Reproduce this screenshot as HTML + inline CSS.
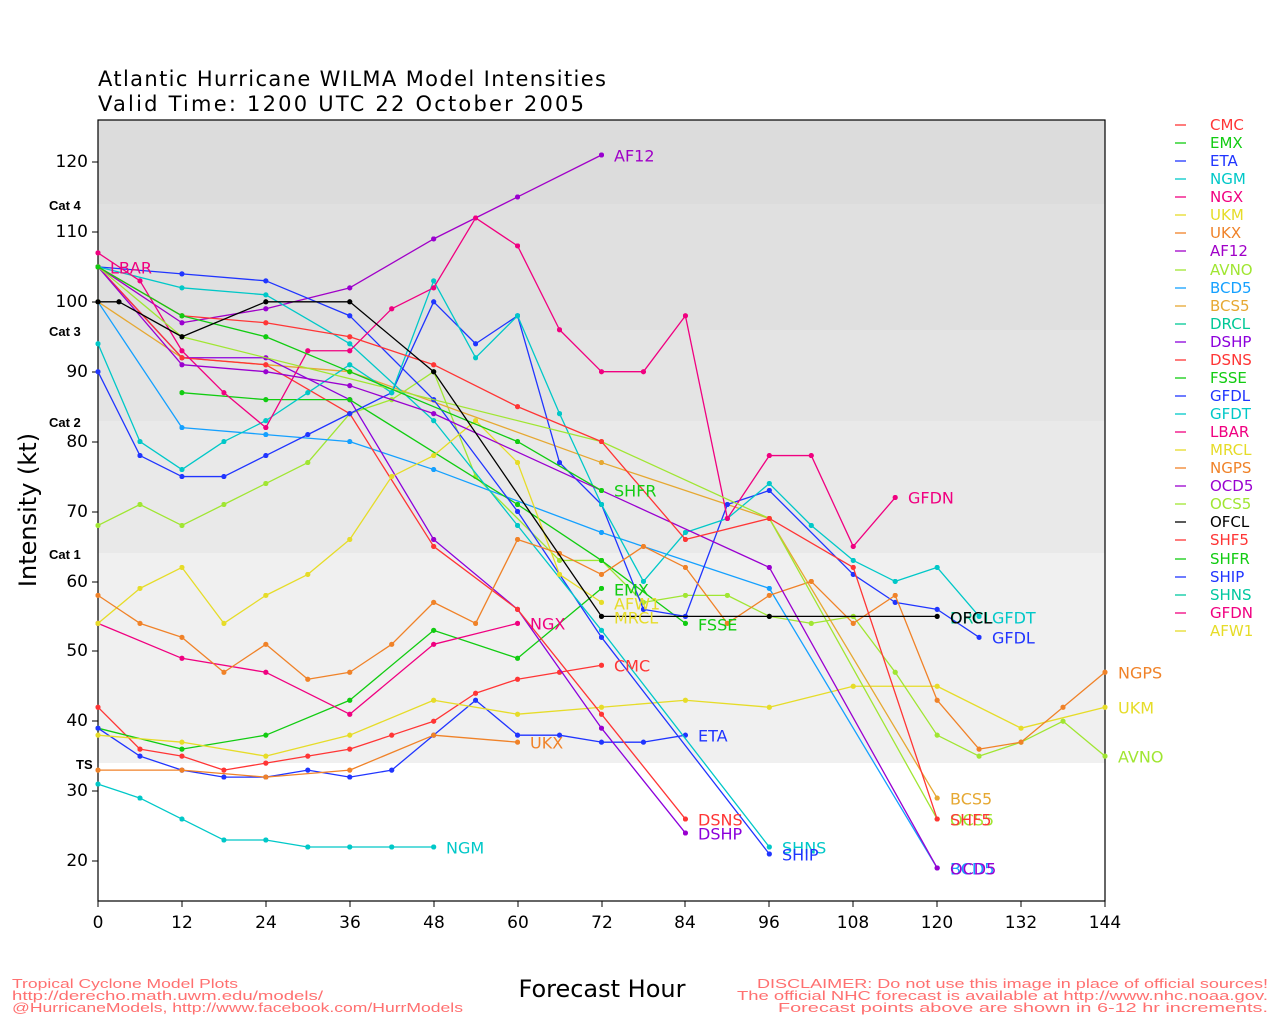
<!DOCTYPE html>
<html><head><meta charset="utf-8"><style>
body{margin:0;background:#fff}
svg{display:block;font-family:"DejaVu Sans","Liberation Sans",sans-serif}
.l{fill:none;stroke-width:1.3;vector-effect:non-scaling-stroke;stroke-linejoin:round}
</style></head><body>
<svg width="1280" height="1024" viewBox="0 0 1280 1024" xmlns="http://www.w3.org/2000/svg">
<defs>
<marker id="mr" markerUnits="userSpaceOnUse" markerWidth="0.75" markerHeight="0.75" viewBox="-1 -1 2 2"><circle r="1" fill="#ff3535"/></marker>
<marker id="mg" markerUnits="userSpaceOnUse" markerWidth="0.75" markerHeight="0.75" viewBox="-1 -1 2 2"><circle r="1" fill="#11cc11"/></marker>
<marker id="mb" markerUnits="userSpaceOnUse" markerWidth="0.75" markerHeight="0.75" viewBox="-1 -1 2 2"><circle r="1" fill="#2035ff"/></marker>
<marker id="mc" markerUnits="userSpaceOnUse" markerWidth="0.75" markerHeight="0.75" viewBox="-1 -1 2 2"><circle r="1" fill="#00c8c8"/></marker>
<marker id="mp" markerUnits="userSpaceOnUse" markerWidth="0.75" markerHeight="0.75" viewBox="-1 -1 2 2"><circle r="1" fill="#f00080"/></marker>
<marker id="my" markerUnits="userSpaceOnUse" markerWidth="0.75" markerHeight="0.75" viewBox="-1 -1 2 2"><circle r="1" fill="#e6dc28"/></marker>
<marker id="mo" markerUnits="userSpaceOnUse" markerWidth="0.75" markerHeight="0.75" viewBox="-1 -1 2 2"><circle r="1" fill="#f08228"/></marker>
<marker id="mv" markerUnits="userSpaceOnUse" markerWidth="0.75" markerHeight="0.75" viewBox="-1 -1 2 2"><circle r="1" fill="#9a00d0"/></marker>
<marker id="mq" markerUnits="userSpaceOnUse" markerWidth="0.75" markerHeight="0.75" viewBox="-1 -1 2 2"><circle r="1" fill="#a0e632"/></marker>
<marker id="ml" markerUnits="userSpaceOnUse" markerWidth="0.75" markerHeight="0.75" viewBox="-1 -1 2 2"><circle r="1" fill="#14a0ff"/></marker>
<marker id="ma" markerUnits="userSpaceOnUse" markerWidth="0.75" markerHeight="0.75" viewBox="-1 -1 2 2"><circle r="1" fill="#e6a832"/></marker>
<marker id="mk" markerUnits="userSpaceOnUse" markerWidth="0.75" markerHeight="0.75" viewBox="-1 -1 2 2"><circle r="1" fill="#000"/></marker>
</defs>
<text x="98" y="86" font-size="21" textLength="508">Atlantic Hurricane WILMA Model Intensities</text>
<text x="98" y="111" font-size="21" textLength="486">Valid Time: 1200 UTC 22 October 2005</text>
<rect x="98" y="120" width="1007" height="84" fill="#dcdcdc"/>
<rect x="98" y="204" width="1007" height="126" fill="#e0e0e0"/>
<rect x="98" y="330" width="1007" height="91" fill="#e4e4e4"/>
<rect x="98" y="421" width="1007" height="132" fill="#e9e9e9"/>
<rect x="98" y="553" width="1007" height="210" fill="#f0f0f0"/>
<rect x="98" y="120" width="1007" height="781" fill="none" stroke="#000" stroke-width="1.2"/>
<g stroke="#000" stroke-width="1">
<path d="M92 162H98M92 232H98M92 302H98M92 372H98M92 442H98M92 512H98M92 582H98M92 651H98M92 721H98M92 791H98M92 861H98"/>
<path d="M98 901V907M182 901V907M266 901V907M350 901V907M434 901V907M518 901V907M602 901V907M685 901V907M769 901V907M853 901V907M937 901V907M1021 901V907M1105 901V907"/>
</g>
<g font-size="17" text-anchor="end" dominant-baseline="central">
<text x="88" y="162">120</text><text x="88" y="232">110</text><text x="88" y="302">100</text><text x="88" y="372">90</text><text x="88" y="442">80</text><text x="88" y="512">70</text><text x="88" y="582">60</text><text x="88" y="651">50</text><text x="88" y="721">40</text><text x="88" y="791">30</text><text x="88" y="861">20</text>
</g>
<g font-size="17" text-anchor="middle">
<text x="98" y="928">0</text><text x="182" y="928">12</text><text x="266" y="928">24</text><text x="350" y="928">36</text><text x="434" y="928">48</text><text x="518" y="928">60</text><text x="602" y="928">72</text><text x="685" y="928">84</text><text x="769" y="928">96</text><text x="853" y="928">108</text><text x="937" y="928">120</text><text x="1021" y="928">132</text><text x="1105" y="928">144</text>
</g>
<g font-size="13" font-weight="bold" font-family="Liberation Sans,sans-serif">
<text x="49" y="210">Cat 4</text><text x="49" y="336">Cat 3</text><text x="49" y="427">Cat 2</text><text x="49" y="559">Cat 1</text><text x="76" y="769">TS</text>
</g>
<text transform="translate(36,510) rotate(-90)" font-size="24" text-anchor="middle">Intensity (kt)</text>
<text x="602" y="997" font-size="24" text-anchor="middle">Forecast Hour</text>

<g transform="matrix(6.993,0,0,-6.99,98,1000.8)">
<polyline class="l" stroke="#ff3535" marker-mid="url(#mr)" marker-start="url(#mr)" marker-end="url(#mr)" points="0,42 6,36 12,35 18,33 24,34 30,35 36,36 42,38 48,40 54,44 60,46 66,47 72,48"/>
<polyline class="l" stroke="#11cc11" marker-mid="url(#mg)" marker-start="url(#mg)" marker-end="url(#mg)" points="0,39 12,36 24,38 36,43 48,53 60,49 72,59"/>
<polyline class="l" stroke="#2035ff" marker-mid="url(#mb)" marker-start="url(#mb)" marker-end="url(#mb)" points="0,39 6,35 12,33 18,32 24,32 30,33 36,32 42,33 48,38 54,43 60,38 66,38 72,37 78,37 84,38"/>
<polyline class="l" stroke="#00c8c8" marker-mid="url(#mc)" marker-start="url(#mc)" marker-end="url(#mc)" points="0,31 6,29 12,26 18,23 24,23 30,22 36,22 42,22 48,22"/>
<polyline class="l" stroke="#f00080" marker-mid="url(#mp)" marker-start="url(#mp)" marker-end="url(#mp)" points="0,54 12,49 24,47 36,41 48,51 60,54"/>
<polyline class="l" stroke="#e6dc28" marker-mid="url(#my)" marker-start="url(#my)" marker-end="url(#my)" points="0,38 12,37 24,35 36,38 48,43 60,41 72,42 84,43 96,42 108,45 120,45 132,39 144,42"/>
<polyline class="l" stroke="#f08228" marker-mid="url(#mo)" marker-start="url(#mo)" marker-end="url(#mo)" points="0,33 12,33 24,32 36,33 48,38 60,37"/>
<polyline class="l" stroke="#a000c8" marker-mid="url(#mv)" marker-start="url(#mv)" marker-end="url(#mv)" points="0,105 12,97 24,99 36,102 48,109 60,115 72,121"/>
<polyline class="l" stroke="#a0e632" marker-mid="url(#mq)" marker-start="url(#mq)" marker-end="url(#mq)" points="0,68 6,71 12,68 18,71 24,74 30,77 36,84 42,86 48,90 54,75 66,63 72,63 78,57 84,58 90,58 96,55 102,54 108,55 114,47 120,38 126,35 132,37 138,40 144,35"/>
<polyline class="l" stroke="#14a0ff" marker-mid="url(#ml)" marker-start="url(#ml)" marker-end="url(#ml)" points="0,100 12,82 24,81 36,80 48,76 72,67 96,59 120,19"/>
<polyline class="l" stroke="#e6a832" marker-mid="url(#ma)" marker-start="url(#ma)" marker-end="url(#ma)" points="0,100 12,92 24,91 36,90 72,77 96,69 120,29"/>
<polyline class="l" stroke="#8c00dc" marker-mid="url(#mv)" marker-start="url(#mv)" marker-end="url(#mv)" points="0,105 12,92 24,92 36,86 48,66 60,56 72,39 84,24"/>
<polyline class="l" stroke="#ff3535" marker-mid="url(#mr)" marker-start="url(#mr)" marker-end="url(#mr)" points="0,105 12,92 24,91 36,84 48,65 60,56 72,41 84,26"/>
<polyline class="l" stroke="#11cc11" marker-mid="url(#mg)" marker-start="url(#mg)" marker-end="url(#mg)" points="12,87 24,86 36,86 60,71 72,63 84,54"/>
<polyline class="l" stroke="#2035ff" marker-mid="url(#mb)" marker-start="url(#mb)" marker-end="url(#mb)" points="0,105 12,104 24,103 36,98 48,86 60,70 72,52 96,21"/>
<polyline class="l" stroke="#2035ff" marker-mid="url(#mb)" marker-start="url(#mb)" marker-end="url(#mb)" points="0,90 6,78 12,75 18,75 24,78 30,81 36,84 42,87 48,100 54,94 60,98 66,77 72,71 78,56 84,55 90,71 96,73 108,61 114,57 120,56 126,52"/>
<polyline class="l" stroke="#00c8c8" marker-mid="url(#mc)" marker-start="url(#mc)" marker-end="url(#mc)" points="0,94 6,80 12,76 18,80 24,83 30,87 36,91 42,87 48,103 54,92 60,98 66,84 72,71 78,60 84,67 90,69 96,74 102,68 108,63 114,60 120,62 126,55"/>
<polyline class="l" stroke="#00c8c8" marker-mid="url(#mc)" marker-start="url(#mc)" marker-end="url(#mc)" points="0,105 12,102 24,101 36,94 48,83 60,68 72,53 96,22"/>
<polyline class="l" stroke="#f00080" marker-mid="url(#mp)" marker-start="url(#mp)" marker-end="url(#mp)" points="0,107 6,103 12,93 18,87 24,82 30,93 36,93 42,99 48,102 54,112 60,108 66,96 72,90 78,90 84,98 90,69 96,78 102,78 108,65 114,72"/>
<polyline class="l" stroke="#e6dc28" marker-mid="url(#my)" marker-start="url(#my)" marker-end="url(#my)" points="0,54 6,59 12,62 18,54 24,58 30,61 36,66 42,75 48,78 54,83 60,77 66,61 72,57"/>
<polyline class="l" stroke="#f08228" marker-mid="url(#mo)" marker-start="url(#mo)" marker-end="url(#mo)" points="0,58 6,54 12,52 18,47 24,51 30,46 36,47 42,51 48,57 54,54 60,66 66,64 72,61 78,65 84,62 90,54 96,58 102,60 108,54 114,58 120,43 126,36 132,37 138,42 144,47"/>
<polyline class="l" stroke="#9a00d0" marker-mid="url(#mv)" marker-start="url(#mv)" marker-end="url(#mv)" points="0,105 12,91 24,90 36,88 48,84 96,62 120,19"/>
<polyline class="l" stroke="#a0e632" marker-mid="url(#mq)" marker-start="url(#mq)" marker-end="url(#mq)" points="0,105 12,95 72,80 96,69 120,26"/>
<polyline class="l" stroke="#ff3535" marker-mid="url(#mr)" marker-start="url(#mr)" marker-end="url(#mr)" points="0,105 12,98 24,97 36,95 48,91 60,85 72,80 84,66 96,69 108,62 120,26"/>
<polyline class="l" stroke="#11cc11" marker-mid="url(#mg)" marker-start="url(#mg)" marker-end="url(#mg)" points="0,105 12,98 24,95 36,90 60,80 72,73"/>
<polyline class="l" stroke="#000" stroke-width="2" marker-mid="url(#mk)" marker-start="url(#mk)" marker-end="url(#mk)" points="0,100 3,100 12,95 24,100 36,100 48,90 72,55 96,55 120,55"/>
</g>

<g font-size="16" dominant-baseline="central">
<text x="110" y="268" fill="#f00080">LBAR</text>
<text x="614" y="156" fill="#a000c8">AF12</text>
<text x="908" y="498" fill="#f00080">GFDN</text>
<text x="614" y="491" fill="#11cc11">SHFR</text>
<text x="614" y="590" fill="#11cc11">EMX</text>
<text x="614" y="604" fill="#e6dc28">AFW1</text>
<text x="614" y="618" fill="#e6dc28">MRCL</text>
<text x="698" y="625" fill="#11cc11">FSSE</text>
<text x="530" y="624" fill="#f00080">NGX</text>
<text x="614" y="666" fill="#ff3535">CMC</text>
<text x="530" y="743" fill="#f08228">UKX</text>
<text x="698" y="736" fill="#2035ff">ETA</text>
<text x="698" y="820" fill="#ff3535">DSNS</text>
<text x="698" y="834" fill="#8c00dc">DSHP</text>
<text x="782" y="848" fill="#00c8c8">SHNS</text>
<text x="782" y="855" fill="#2035ff">SHIP</text>
<text x="446" y="848" fill="#00c8c8">NGM</text>
<text x="950" y="618" fill="#00c896">DRCL</text>
<text x="950" y="618" fill="#000">OFCL</text>
<text x="992" y="618" fill="#00c8c8">GFDT</text>
<text x="992" y="638" fill="#2035ff">GFDL</text>
<text x="1118" y="673" fill="#f08228">NGPS</text>
<text x="1118" y="708" fill="#e6dc28">UKM</text>
<text x="1118" y="757" fill="#a0e632">AVNO</text>
<text x="950" y="799" fill="#e6a832">BCS5</text>
<text x="950" y="820" fill="#a0e632">OCS5</text>
<text x="950" y="820" fill="#ff3535">SHF5</text>
<text x="950" y="869" fill="#14a0ff">BCD5</text>
<text x="950" y="869" fill="#9a00d0">OCD5</text>
</g>

<g font-size="15" dominant-baseline="central">
<g stroke-width="1.3">
<line x1="1175" x2="1186" y1="125" y2="125" stroke="#ff3535"/>
<line x1="1175" x2="1186" y1="143" y2="143" stroke="#11cc11"/>
<line x1="1175" x2="1186" y1="161" y2="161" stroke="#2035ff"/>
<line x1="1175" x2="1186" y1="179" y2="179" stroke="#00c8c8"/>
<line x1="1175" x2="1186" y1="197" y2="197" stroke="#f00080"/>
<line x1="1175" x2="1186" y1="215" y2="215" stroke="#e6dc28"/>
<line x1="1175" x2="1186" y1="233" y2="233" stroke="#f08228"/>
<line x1="1175" x2="1186" y1="251" y2="251" stroke="#a000c8"/>
<line x1="1175" x2="1186" y1="270" y2="270" stroke="#a0e632"/>
<line x1="1175" x2="1186" y1="288" y2="288" stroke="#14a0ff"/>
<line x1="1175" x2="1186" y1="306" y2="306" stroke="#e6a832"/>
<line x1="1175" x2="1186" y1="324" y2="324" stroke="#00c896"/>
<line x1="1175" x2="1186" y1="342" y2="342" stroke="#8c00dc"/>
<line x1="1175" x2="1186" y1="360" y2="360" stroke="#ff3535"/>
<line x1="1175" x2="1186" y1="378" y2="378" stroke="#11cc11"/>
<line x1="1175" x2="1186" y1="396" y2="396" stroke="#2035ff"/>
<line x1="1175" x2="1186" y1="414" y2="414" stroke="#00c8c8"/>
<line x1="1175" x2="1186" y1="432" y2="432" stroke="#f00080"/>
<line x1="1175" x2="1186" y1="450" y2="450" stroke="#e6dc28"/>
<line x1="1175" x2="1186" y1="468" y2="468" stroke="#f08228"/>
<line x1="1175" x2="1186" y1="486" y2="486" stroke="#9a00d0"/>
<line x1="1175" x2="1186" y1="504" y2="504" stroke="#a0e632"/>
<line x1="1175" x2="1186" y1="522" y2="522" stroke="#000"/>
<line x1="1175" x2="1186" y1="540" y2="540" stroke="#ff3535"/>
<line x1="1175" x2="1186" y1="559" y2="559" stroke="#11cc11"/>
<line x1="1175" x2="1186" y1="577" y2="577" stroke="#2035ff"/>
<line x1="1175" x2="1186" y1="595" y2="595" stroke="#00c8a0"/>
<line x1="1175" x2="1186" y1="613" y2="613" stroke="#f00080"/>
<line x1="1175" x2="1186" y1="631" y2="631" stroke="#e6dc28"/>
</g>
<text x="1210" y="125" fill="#ff3535">CMC</text>
<text x="1210" y="143" fill="#11cc11">EMX</text>
<text x="1210" y="161" fill="#2035ff">ETA</text>
<text x="1210" y="179" fill="#00c8c8">NGM</text>
<text x="1210" y="197" fill="#f00080">NGX</text>
<text x="1210" y="215" fill="#e6dc28">UKM</text>
<text x="1210" y="233" fill="#f08228">UKX</text>
<text x="1210" y="251" fill="#a000c8">AF12</text>
<text x="1210" y="270" fill="#a0e632">AVNO</text>
<text x="1210" y="288" fill="#14a0ff">BCD5</text>
<text x="1210" y="306" fill="#e6a832">BCS5</text>
<text x="1210" y="324" fill="#00c896">DRCL</text>
<text x="1210" y="342" fill="#8c00dc">DSHP</text>
<text x="1210" y="360" fill="#ff3535">DSNS</text>
<text x="1210" y="378" fill="#11cc11">FSSE</text>
<text x="1210" y="396" fill="#2035ff">GFDL</text>
<text x="1210" y="414" fill="#00c8c8">GFDT</text>
<text x="1210" y="432" fill="#f00080">LBAR</text>
<text x="1210" y="450" fill="#e6dc28">MRCL</text>
<text x="1210" y="468" fill="#f08228">NGPS</text>
<text x="1210" y="486" fill="#9a00d0">OCD5</text>
<text x="1210" y="504" fill="#a0e632">OCS5</text>
<text x="1210" y="522" fill="#000">OFCL</text>
<text x="1210" y="540" fill="#ff3535">SHF5</text>
<text x="1210" y="559" fill="#11cc11">SHFR</text>
<text x="1210" y="577" fill="#2035ff">SHIP</text>
<text x="1210" y="595" fill="#00c8a0">SHNS</text>
<text x="1210" y="613" fill="#f00080">GFDN</text>
<text x="1210" y="631" fill="#e6dc28">AFW1</text>
</g>

<g font-size="13" fill="#ff7070" font-family="Liberation Sans,sans-serif">
<text x="12" y="988" textLength="226" lengthAdjust="spacingAndGlyphs">Tropical Cyclone Model Plots</text>
<text x="12" y="1000" textLength="311" lengthAdjust="spacingAndGlyphs">http://derecho.math.uwm.edu/models/</text>
<text x="12" y="1012" textLength="451" lengthAdjust="spacingAndGlyphs">@HurricaneModels, http://www.facebook.com/HurrModels</text>
<text x="757" y="988" textLength="511" lengthAdjust="spacingAndGlyphs">DISCLAIMER: Do not use this image in place of official sources!</text>
<text x="737" y="1000" textLength="531" lengthAdjust="spacingAndGlyphs">The official NHC forecast is available at http://www.nhc.noaa.gov.</text>
<text x="778" y="1012" textLength="490" lengthAdjust="spacingAndGlyphs">Forecast points above are shown in 6-12 hr increments.</text>
</g>
</svg>
</body></html>
